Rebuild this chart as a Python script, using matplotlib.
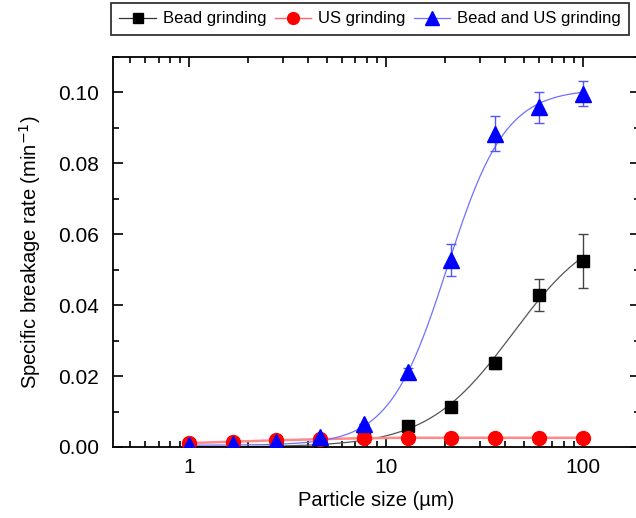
import numpy as np
import matplotlib
matplotlib.use("Agg")
import matplotlib.pyplot as plt
from matplotlib.ticker import FixedLocator, NullFormatter, MultipleLocator, LogLocator

plt.rcParams['font.family'] = ['Liberation Sans', 'DejaVu Sans']
plt.rcParams['axes.unicode_minus'] = False

size = [1, 1.67, 2.78, 4.64, 7.74, 12.9, 21.5, 35.9, 59.9, 100]

bead = [0.0, 0.0, 0.0002, 0.0005, 0.0031, 0.0060, 0.0113, 0.0237, 0.0430, 0.0525]
bead_err = [0, 0, 0, 0, 0, 0, 0, 0.0017, 0.0045, 0.0077]

us = [0.0011, 0.0015, 0.0019, 0.0022, 0.0025, 0.0026, 0.0026, 0.0026, 0.0026, 0.0026]

both = [0.0007, 0.0009, 0.0015, 0.0027, 0.0064, 0.0212, 0.0528, 0.0884, 0.0958, 0.0997]
both_err = [0, 0, 0, 0, 0, 0.0010, 0.0045, 0.0050, 0.0044, 0.0036]

# logistic fit parameters (A1, A2, x0, p)
bead_fit = (0.0, 0.064, 44.0, 2.0)
both_fit = (0.0005, 0.101, 20.5, 2.94)


def logistic(x, a1, a2, x0, p):
    return a2 + (a1 - a2) / (1 + (x / x0) ** p)


fig = plt.figure(figsize=(6.36, 5.18), dpi=100)
ax = fig.add_axes([113/636, 1 - 447/518, (640 - 113)/636, (447 - 57)/518])

xf = np.logspace(0, 2, 300)
ax.plot(xf, logistic(xf, *bead_fit), color='#555555', lw=0.9, zorder=2)
ax.plot(size, us, color='#ff8888', lw=1.8, zorder=2)
ax.plot(xf, logistic(xf, *both_fit), color='#7070ff', lw=0.9, zorder=2)

ax.errorbar(size, bead, yerr=bead_err, fmt='none', ecolor='#444444',
            elinewidth=1, capsize=3.5, capthick=1, zorder=3)
ax.errorbar(size, both, yerr=both_err, fmt='none', ecolor='#5555ff',
            elinewidth=1, capsize=3.5, capthick=1, zorder=3)

ax.plot(size, bead, 's', color='black', ms=8, zorder=4)
ax.plot(size, us, 'o', color='red', ms=10, mec='red', zorder=5)
ax.plot(size, both, '^', color='blue', ms=12, zorder=6)

ax.set_xscale('log')
ax.set_xlim(0.411, 195)
ax.set_ylim(0, 0.110)
ax.xaxis.set_major_locator(FixedLocator([1, 10, 100]))
ax.xaxis.set_major_formatter(plt.FixedFormatter(['1', '10', '100']))
ax.xaxis.set_minor_locator(LogLocator(base=10, subs=np.arange(2, 10), numticks=20))
ax.xaxis.set_minor_formatter(NullFormatter())
ax.yaxis.set_major_locator(MultipleLocator(0.02))
ax.yaxis.set_minor_locator(MultipleLocator(0.01))
ax.yaxis.set_major_formatter(plt.FormatStrFormatter('%.2f'))

ax.tick_params(which='both', direction='in', top=True, right=True, width=1.2)
ax.tick_params(which='major', length=7, labelsize=15)
ax.tick_params(axis='y', which='major', pad=10)
ax.tick_params(axis='x', which='major', pad=8)
ax.tick_params(which='minor', length=4)
for s in ax.spines.values():
    s.set_linewidth(1.3)

ax.set_xlabel('Particle size (\u00b5m)', fontsize=14.5, labelpad=10)
ax.set_ylabel('Specific breakage rate (min$^{-1}$)', fontsize=14.5, labelpad=11)

h1, = ax.plot([], [], '-s', color='#333333', mfc='black', mec='black', ms=8, lw=0.9)
h2, = ax.plot([], [], '-o', color='#ff6666', mfc='red', mec='red', ms=10, lw=1)
h3, = ax.plot([], [], '-^', color='#7070ff', mfc='blue', mec='blue', ms=12, lw=0.9)

leg = fig.legend([h1, h2, h3], ['Bead grinding', 'US grinding', 'Bead and US grinding'],
                 loc='upper left', bbox_to_anchor=(111/636, 1 - 3/518), ncol=3,
                 fontsize=12, frameon=True, fancybox=False, edgecolor='black',
                 handlelength=2.2, handletextpad=0.4, columnspacing=0.5,
                 borderpad=0.5, borderaxespad=0, markerscale=0.85)
leg.get_frame().set_linewidth(1.3)

fig.savefig('out.png', dpi=100)
